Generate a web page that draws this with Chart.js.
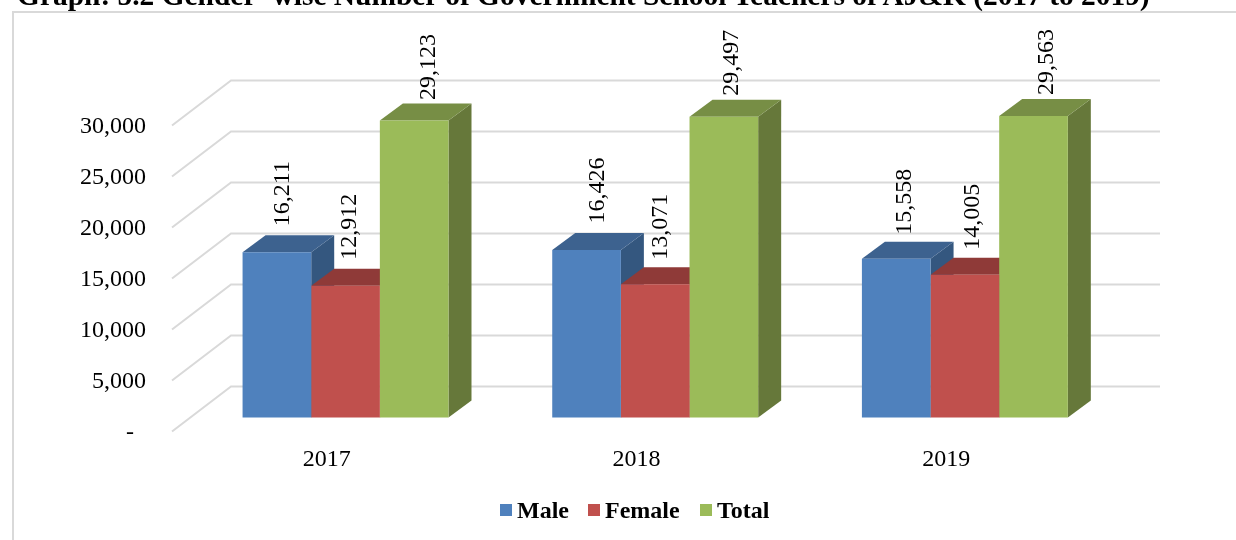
<!DOCTYPE html>
<html>
<head>
<meta charset="utf-8">
<title>Graph 5.2</title>
<script src="https://cdn.jsdelivr.net/npm/chart.js@4"></script>
<style>
    html, body { margin: 0; padding: 0; background: #fff; overflow: hidden; }
    #wrap { position: relative; width: 1236px; height: 540px; overflow: hidden; font-family: "Liberation Serif", serif; }
    #frame { position: absolute; left: 12px; top: 11px; right: 0; bottom: 0; border-left: 2px solid #d9d9d9; border-top: 2px solid #d9d9d9; }
    #title { position: absolute; left: 17px; top: -18px; font-weight: bold; font-size: 29.43px; line-height: 27px; white-space: nowrap; color: #000; }
    #legend { position: absolute; left: 500px; top: 497px; font-weight: bold; font-size: 24px; line-height: 27px; color: #000; white-space: nowrap; }
    #legend span.box { position: absolute; top: 7px; width: 12px; height: 12px; }
    #legend span.txt { position: absolute; top: 0; }
    canvas { position: absolute; left: 0; top: 0; }
</style>
</head>
<body>
<div id="wrap">
    <div id="frame"></div>
    <canvas id="teachersChart" width="1236" height="540"></canvas>
    <div id="title">Graph: 5.2 Gender- wise Number of Government School Teachers of AJ&amp;K (2017 to 2019)</div>
    <div id="legend"></div>
</div>
<script>
const years = ['2017', '2018', '2019'];
const seriesNames = ['Male', 'Female', 'Total'];
const maleValues = [16211, 16426, 15558];
const femaleValues = [12912, 13071, 14005];
const totalValues = [29123, 29497, 29563];

const frontColors = ['#4f81bd', '#c0504d', '#9bbb59'];
const topColors = ['#3d628f', '#8f3a38', '#778e45'];
const sideColors = ['#34577f', '#8f3a38', '#66783a'];

const fontFamily = '"Liberation Serif", serif';
const fontSize = 24;

// 3d look: floor depth for the walls, bar depth and where bars sit on the floor
const wallDx = 59, wallDy = -45;
const barDx = 23, barDy = -17;
const floorDx = 18.7, floorDy = -14;

// data labels were moved by hand in the original, offsets from the bar's front top
const labelDx = [[6, 11.5, 8.5], [4, 5.5, 7.5], [14.5, 8, 13]];
const labelDy = [[-26, -26.5, -24], [-26, -24.5, -25], [-20.5, -21, -21]];

function fillPoly(ctx, pts, color) {
    ctx.fillStyle = color;
    ctx.beginPath();
    pts.forEach((p, i) => i ? ctx.lineTo(p[0], p[1]) : ctx.moveTo(p[0], p[1]));
    ctx.closePath();
    ctx.fill();
}

const bars3d = {
    id: 'bars3d',
    beforeDatasetsDraw(chart) {
        const { ctx, chartArea, scales } = chart;
        // walls
        ctx.save();
        ctx.strokeStyle = '#d9d9d9';
        ctx.lineWidth = 2;
        scales.y.ticks.forEach(t => {
            const y = scales.y.getPixelForValue(t.value);
            ctx.beginPath();
            ctx.moveTo(chartArea.left, y);
            ctx.lineTo(chartArea.left + wallDx, y + wallDy);
            ctx.lineTo(chartArea.right + wallDx, y + wallDy);
            ctx.stroke();
        });
        ctx.restore();

        // everything in the bar layer sits a bit back on the floor
        ctx.save();
        ctx.translate(floorDx, floorDy);
        seriesNames.forEach((_, s) => {
            chart.getDatasetMeta(s).data.forEach(bar => {
                const r = bar.x + bar.width / 2, l = bar.x - bar.width / 2;
                fillPoly(ctx, [[r, bar.y], [r + barDx, bar.y + barDy], [r + barDx, bar.base + barDy], [r, bar.base]], sideColors[s]);
                fillPoly(ctx, [[l, bar.y], [l + barDx, bar.y + barDy], [r + barDx, bar.y + barDy], [r, bar.y]], topColors[s]);
            });
        });
    },
    afterDatasetsDraw(chart) {
        const { ctx } = chart;
        ctx.restore();

        ctx.save();
        ctx.fillStyle = '#000';
        ctx.font = fontSize + 'px ' + fontFamily;
        ctx.textAlign = 'left';
        ctx.textBaseline = 'middle';
        seriesNames.forEach((_, s) => {
            const values = chart.data.datasets[s].data;
            chart.getDatasetMeta(s).data.forEach((bar, i) => {
                ctx.save();
                ctx.translate(bar.x + floorDx + labelDx[s][i], bar.y + floorDy + labelDy[s][i]);
                ctx.rotate(-Math.PI / 2);
                ctx.fillText(values[i].toLocaleString('en-US'), 0, 0);
                ctx.restore();
            });
        });
        ctx.restore();
    },
};

const seriesValues = [maleValues, femaleValues, totalValues];

new Chart(document.getElementById('teachersChart'), {
    type: 'bar',
    data: {
        labels: years,
        datasets: seriesNames.map((name, s) => ({
            label: name,
            data: seriesValues[s],
            backgroundColor: frontColors[s],
            categoryPercentage: 0.665,
            barPercentage: 1,
            clip: false,
        })),
    },
    options: {
        responsive: false,
        animation: false,
        layout: { padding: { top: 125.5, right: 135, bottom: 0, left: 0 } },
        plugins: { legend: { display: false }, tooltip: { enabled: false } },
        scales: {
            x: {
                grid: { display: false, drawTicks: false },
                border: { display: false },
                ticks: { color: '#000', font: { family: fontFamily, size: fontSize }, padding: 14, maxRotation: 0 },
                afterFit(scale) { scale.height = 108.5; },
            },
            y: {
                min: 0,
                max: 30000,
                grid: { display: false, drawTicks: false },
                border: { display: false },
                ticks: {
                    stepSize: 5000,
                    color: '#000',
                    padding: 26,
                    labelOffset: 1,
                    font: { family: fontFamily, size: fontSize },
                    callback: v => v === 0 ? '-  ' : v.toLocaleString('en-US'),
                },
                afterFit(scale) { scale.width = 172; },
            },
        },
    },
    plugins: [bars3d],
});

// legend keeps the tight box/text gap of the original
const legendBoxX = [0, 88, 200];
const legend = document.getElementById('legend');
seriesNames.forEach((name, s) => {
    const box = document.createElement('span');
    box.className = 'box';
    box.style.left = legendBoxX[s] + 'px';
    box.style.background = frontColors[s];
    const txt = document.createElement('span');
    txt.className = 'txt';
    txt.style.left = legendBoxX[s] + 17 + 'px';
    txt.textContent = name;
    legend.appendChild(box);
    legend.appendChild(txt);
});
</script>
</body>
</html>
